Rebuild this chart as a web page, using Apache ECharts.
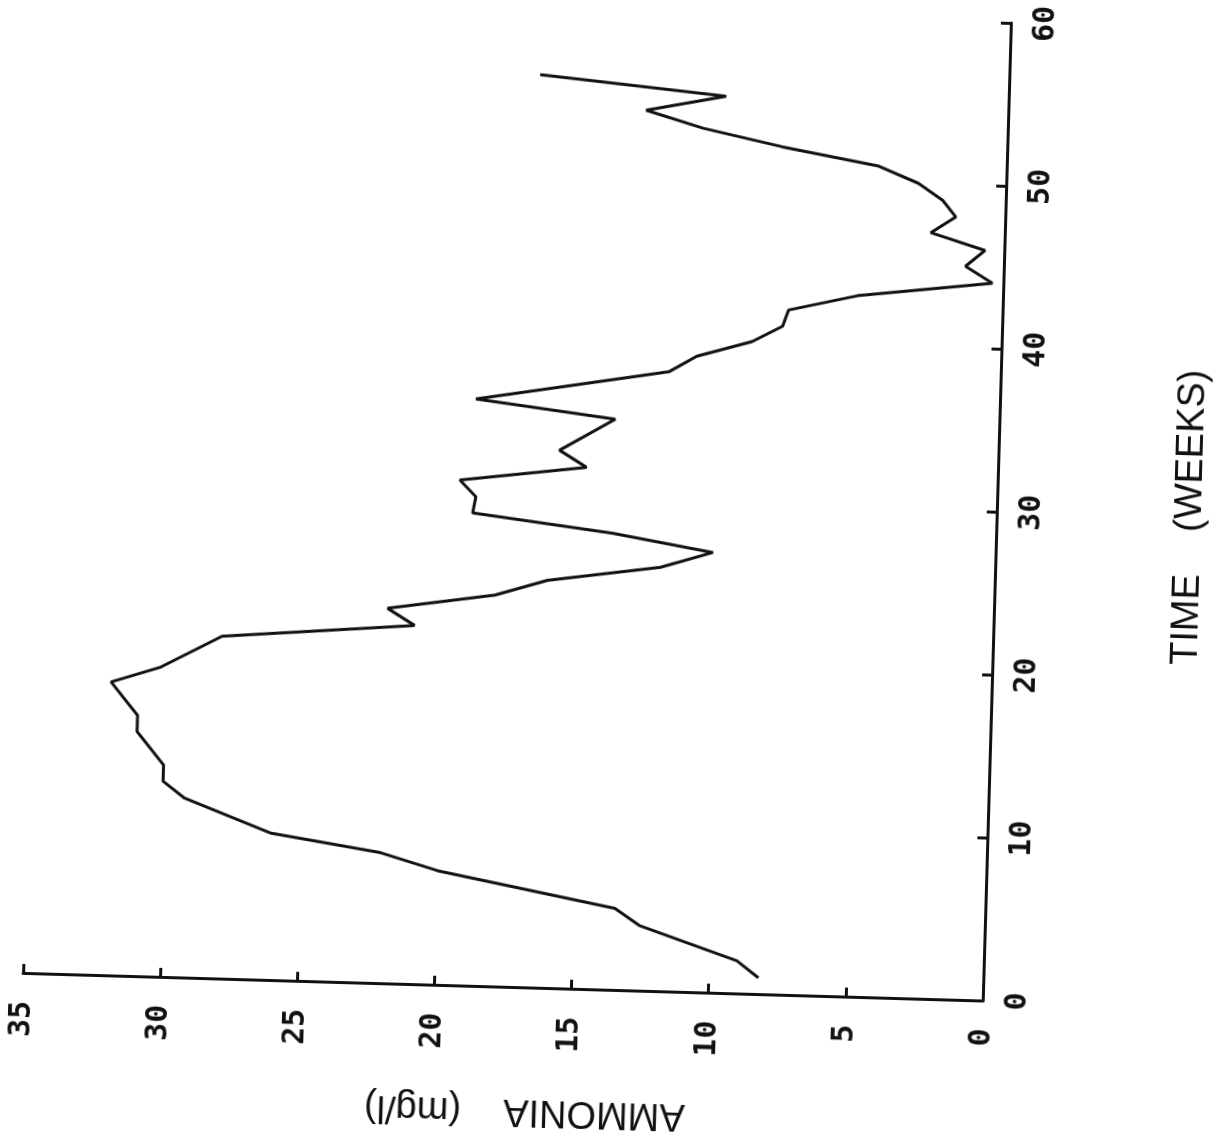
<!DOCTYPE html>
<html>
<head>
<meta charset="utf-8">
<title>Ammonia vs Time</title>
<script src="https://cdn.jsdelivr.net/npm/echarts@6/dist/echarts.min.js"></script>
<style>
  html, body { margin: 0; padding: 0; background: #fff; overflow: hidden; }
  /* the scanned plot is turned on its side and sits a little crooked */
  #chart {
    position: absolute;
    left: 0;
    top: -40px;
    width: 1218px;
    height: 1221px;
    transform-origin: 520px 538px;
    transform: rotate(1.65deg);
  }
</style>
</head>
<body>
<div id="chart"></div>
<script>
// time axis (weeks)
const weeks = [1, 2, 4, 5, 7, 8, 9, 11, 12, 13, 15, 16, 18, 19, 21, 22, 23, 24, 25, 26, 27, 28,
  29, 30, 31, 32, 33, 35, 36, 38, 39, 40, 41, 42, 43, 44, 45, 46, 47, 48, 49, 50, 51, 52, 53, 54, 55, 56];
// ammonia (mg/l)
const ammonia = [8.2, 9.0, 12.6, 13.5, 20.0, 22.1, 26.1, 29.3, 30.1, 30.1, 31.1, 31.1, 32.1, 30.3, 28.1, 21.1, 22.1, 18.2, 16.3, 12.2, 10.3, 14.0,
  19.1, 19.0, 19.6, 15.0, 16.0, 14.0, 19.1, 12.1, 11.1, 9.1, 8.0, 7.8, 5.3, 0.4, 1.4, 0.7, 2.7, 1.8, 2.3, 3.2, 4.7, 8.2, 11.1, 13.2, 10.3, 17.1];

const chart = echarts.init(document.getElementById('chart'));

// plotter style digits
const tickFont = {
  fontFamily: 'DejaVu Sans Mono',
  fontWeight: 'bold',
  fontSize: 30,
  color: '#111'
};
const nameFont = {
  fontFamily: 'Liberation Sans',
  fontSize: 38,
  color: '#111'
};

const option = {
  backgroundColor: '#fff',
  animation: false,
  grid: {
    left: 37,
    right: 215,
    top: 49,
    bottom: 194
  },
  // ammonia runs right -> left along the bottom
  xAxis: {
    type: 'value',
    inverse: true,
    min: 0,
    max: 35,
    interval: 5,
    name: 'AMMONIA    (mg/l)',
    nameLocation: 'middle',
    nameRotate: 180,
    nameGap: 104,
    nameTextStyle: Object.assign({ padding: [0, 50, 0, 0] }, nameFont),
    axisLine: { show: true, lineStyle: { color: '#111', width: 3 } },
    axisTick: { show: true, inside: true, length: 9, lineStyle: { color: '#111', width: 3 } },
    axisLabel: Object.assign({ rotate: 90, margin: 28 }, tickFont),
    splitLine: { show: false }
  },
  // time runs bottom -> top on the right side
  yAxis: {
    type: 'value',
    position: 'right',
    min: 0,
    max: 60,
    interval: 10,
    name: 'TIME    (WEEKS)',
    nameLocation: 'middle',
    nameRotate: 90,
    nameGap: 175,
    nameTextStyle: nameFont,
    axisLine: { show: true, lineStyle: { color: '#111', width: 3 } },
    axisTick: { show: true, inside: true, length: 10, lineStyle: { color: '#111', width: 3 } },
    axisLabel: Object.assign({ rotate: 90, margin: 20 }, tickFont),
    splitLine: { show: false }
  },
  series: [{
    type: 'line',
    data: weeks.map((w, i) => [ammonia[i], w]),
    showSymbol: false,
    lineStyle: { color: '#111', width: 3 },
    itemStyle: { color: '#111' }
  }]
};

chart.setOption(option);
</script>
</body>
</html>
